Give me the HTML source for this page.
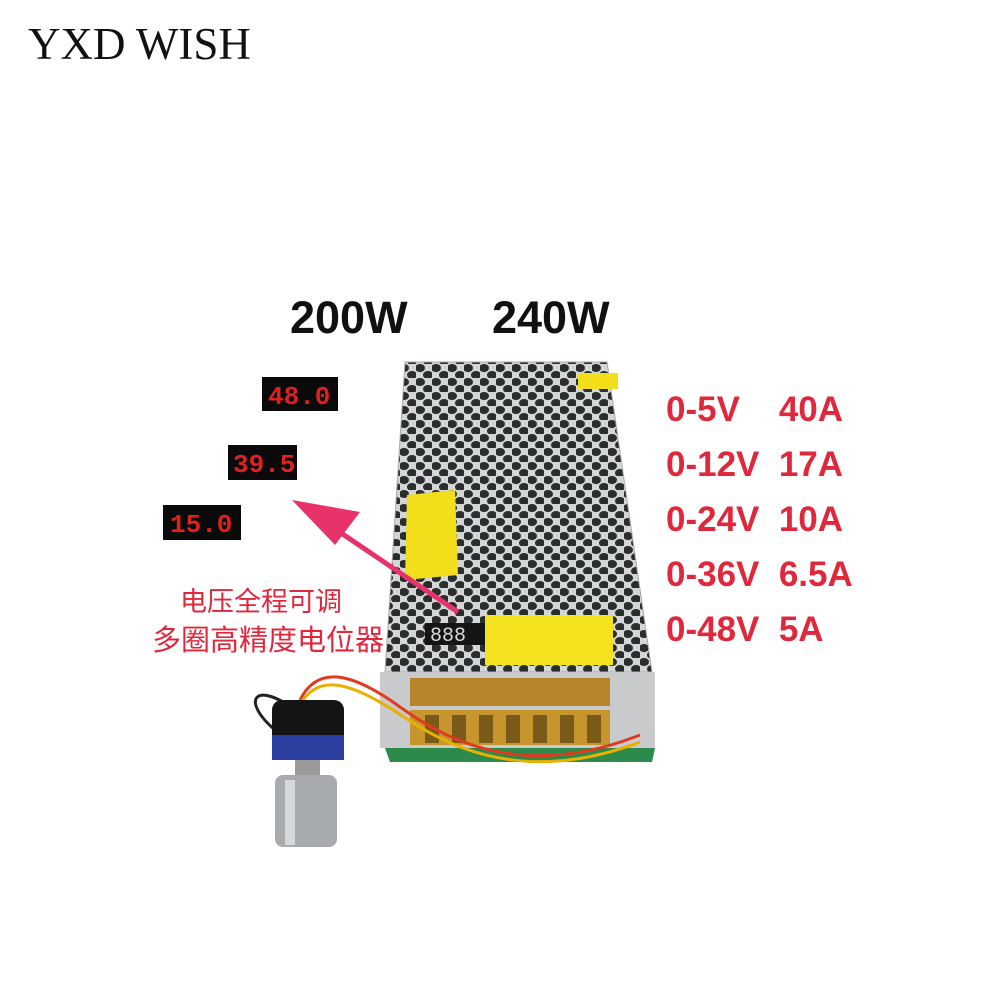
<!DOCTYPE html>
<html><head><meta charset="utf-8"><style>
body{margin:0;width:1000px;height:1000px;background:#fff;overflow:hidden;position:relative;font-family:"Liberation Sans","Noto Sans CJK SC",sans-serif}
.t{position:absolute;white-space:nowrap}
.r{color:#e0283c;font-weight:bold;font-size:35px}
</style></head><body>
<div class="t" style="left:28px;top:18px;font-family:'Liberation Serif',serif;font-size:45px;color:#111">YXD WISH</div>
<div class="t" style="left:290px;top:292px;font-size:45px;font-weight:bold;color:#111">200W</div>
<div class="t" style="left:492px;top:292px;font-size:45px;font-weight:bold;color:#111">240W</div>
<div class="t r" style="left:666px;top:390px">0-5V&nbsp;&nbsp;&nbsp;&nbsp;40A</div>
<div class="t r" style="left:666px;top:445px">0-12V&nbsp;&nbsp;17A</div>
<div class="t r" style="left:666px;top:500px">0-24V&nbsp;&nbsp;10A</div>
<div class="t r" style="left:666px;top:555px">0-36V&nbsp;&nbsp;6.5A</div>
<div class="t r" style="left:666px;top:610px">0-48V&nbsp;&nbsp;5A</div>
<div class="t" style="left:180px;top:580px;font-size:27px;color:#e0283c">电压全程可调</div>
<div class="t" style="left:152px;top:617px;font-size:29px;color:#e0283c">多圈高精度电位器</div>
<svg width="1000" height="1000" style="position:absolute;left:0;top:0;pointer-events:none">
<defs>
<pattern id="h" width="16" height="14" patternUnits="userSpaceOnUse">
<rect width="16" height="14" fill="#d4d6d6"/>
<ellipse cx="4" cy="4" rx="5" ry="4" fill="#2a2d2e"/>
<ellipse cx="12" cy="11" rx="5" ry="4" fill="#2a2d2e"/>
</pattern>
</defs>
<polygon points="385,748 655,748 652,762 390,762" fill="#2c8a4a"/>
<polygon points="405,362 607,362 652,672 385,672" fill="url(#h)" stroke="#aaa"/>
<polygon points="380,672 655,672 655,748 380,748" fill="#c8cacb"/>
<rect x="410" y="678" width="200" height="28" fill="#b8862a"/>
<rect x="410" y="710" width="200" height="35" fill="#c7952e"/>
<g fill="#7a5a18"><rect x="425" y="715" width="14" height="28"/><rect x="452" y="715" width="14" height="28"/><rect x="479" y="715" width="14" height="28"/><rect x="506" y="715" width="14" height="28"/><rect x="533" y="715" width="14" height="28"/><rect x="560" y="715" width="14" height="28"/><rect x="587" y="715" width="14" height="28"/></g>
<rect x="578" y="373" width="40" height="16" fill="#f2de1a"/>
<polygon points="407,495 455,490 458,575 405,580" fill="#f2de1a"/>
<rect x="485" y="615" width="128" height="50" fill="#f5e21e"/>
<rect x="425" y="623" width="60" height="22" fill="#151515"/>
<text x="430" y="641" font-family="Liberation Mono" font-size="20" fill="#ddd">888</text>
<rect x="262" y="377" width="76" height="34" fill="#0a0a0a"/>
<text x="268" y="404" font-family="Liberation Mono" font-weight="bold" font-size="26" fill="#e02020">48.0</text>
<rect x="228" y="445" width="69" height="35" fill="#0a0a0a"/>
<text x="233" y="472" font-family="Liberation Mono" font-weight="bold" font-size="26" fill="#e02020">39.5</text>
<rect x="163" y="505" width="78" height="35" fill="#0a0a0a"/>
<text x="170" y="532" font-family="Liberation Mono" font-weight="bold" font-size="26" fill="#e02020">15.0</text>
<line x1="458" y1="612" x2="310" y2="512" stroke="#e8336a" stroke-width="5"/>
<polygon points="292,500 360,512 335,545" fill="#e8336a"/>
<path d="M300,700 C320,660 360,680 390,700 S 500,790 640,735" fill="none" stroke="#e03a20" stroke-width="3"/>
<path d="M300,705 C320,668 360,690 390,708 S 500,795 640,742" fill="none" stroke="#e8b000" stroke-width="3"/>
<path d="M295,710 C255,680 240,700 275,730" fill="none" stroke="#222" stroke-width="3"/>
<rect x="272" y="700" width="72" height="60" rx="10" fill="#141414"/>
<rect x="272" y="735" width="72" height="25" fill="#2a3fa0"/>
<rect x="295" y="760" width="25" height="15" fill="#9a9a9a"/>
<rect x="275" y="775" width="62" height="72" rx="8" fill="#a8abae"/>
<rect x="285" y="780" width="10" height="65" fill="#d6d8da"/>
</svg>
</body></html>
